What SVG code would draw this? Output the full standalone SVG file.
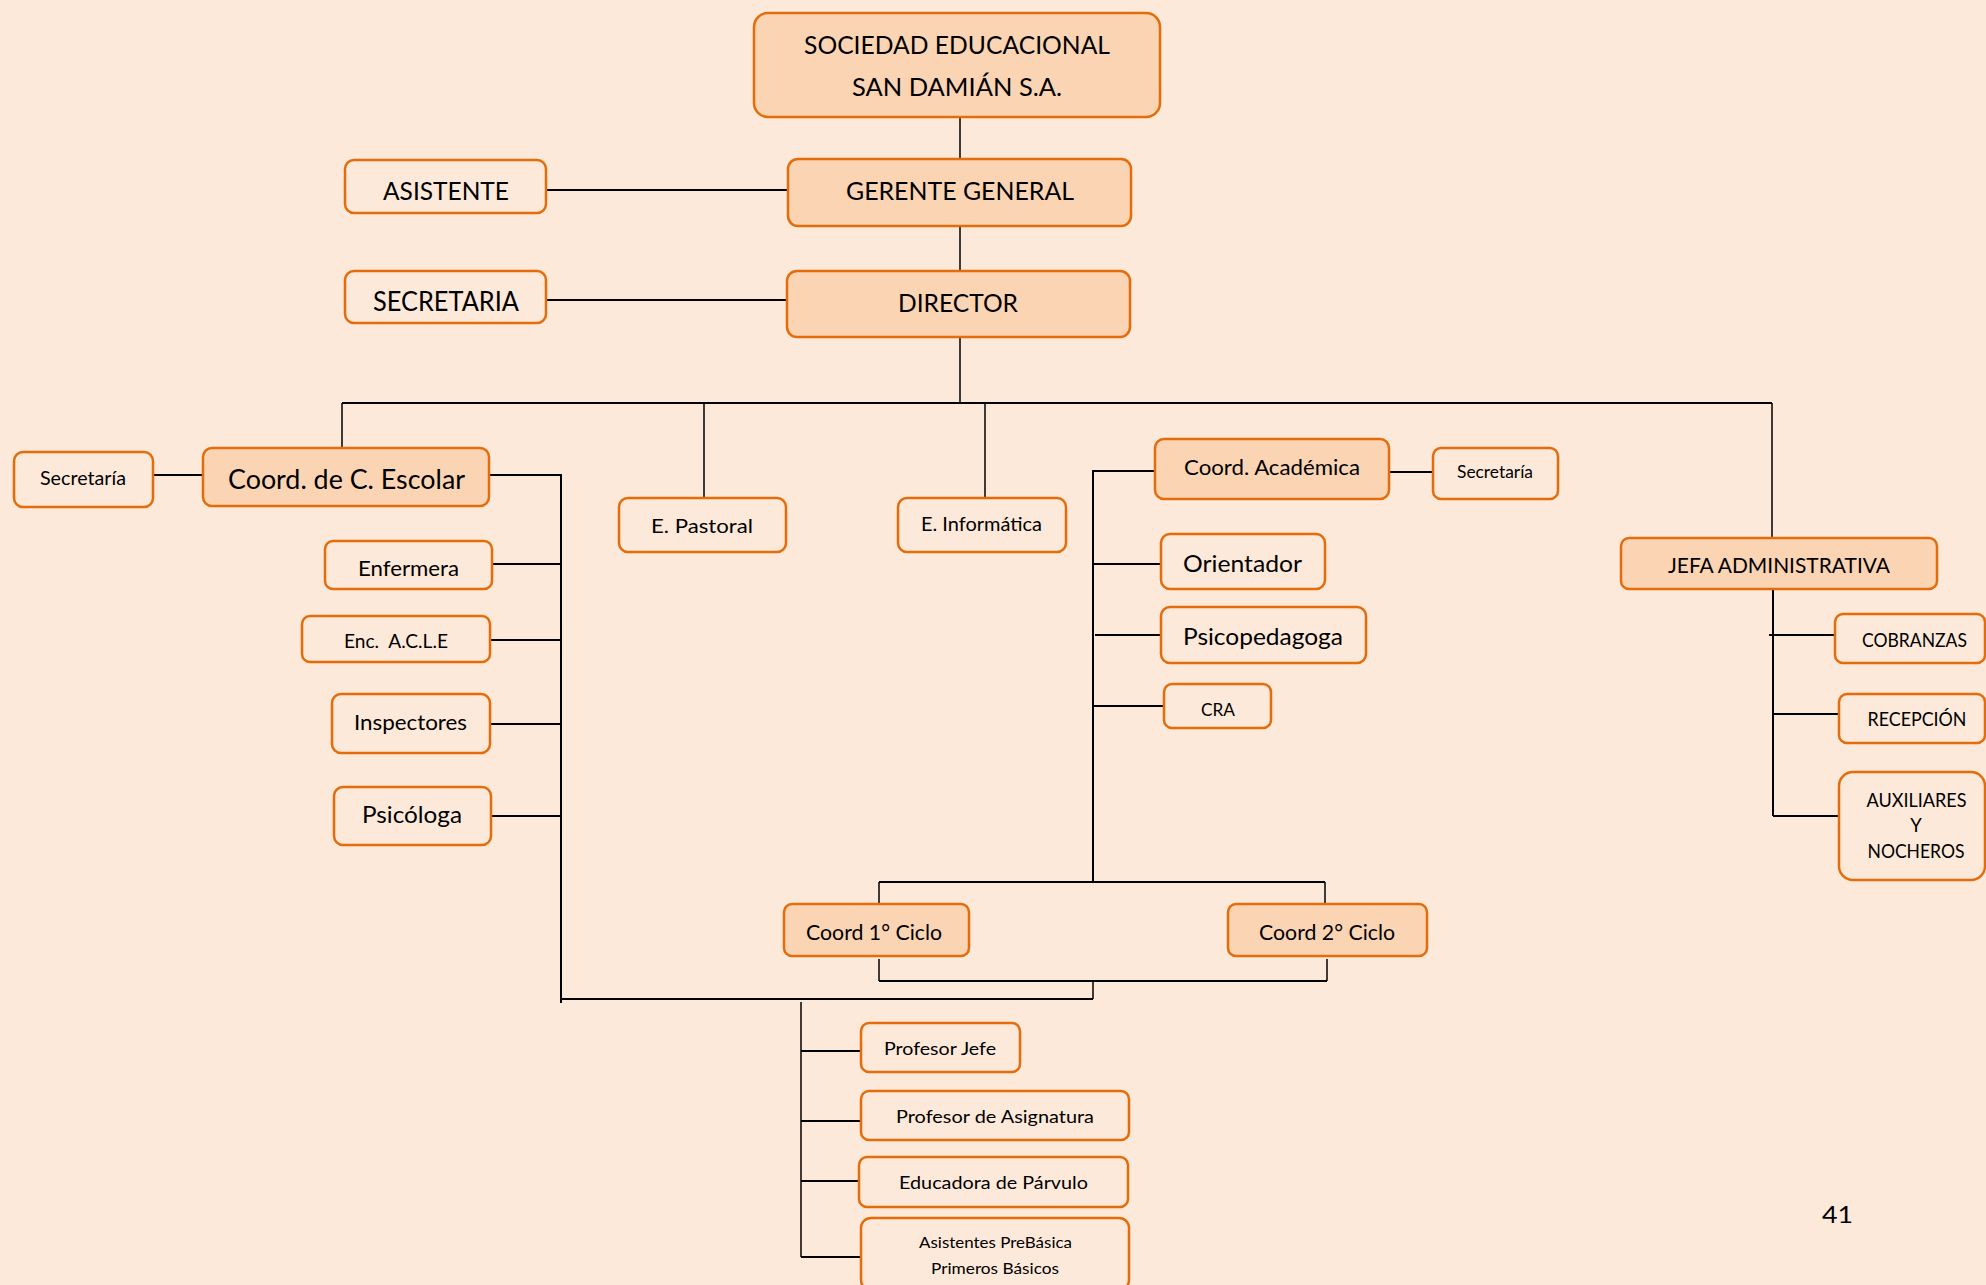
<svg xmlns="http://www.w3.org/2000/svg" width="1986" height="1285" viewBox="0 0 1986 1285">
<style>
.bx{fill:#FDE9D9;stroke:#E46C0A;stroke-width:2.5}
.hl{fill:#FBD4B4;stroke:#E46C0A;stroke-width:2.5}
.ln{fill:none;stroke:#000;stroke-width:2}
.lt{fill:none;stroke:#000;stroke-width:1.5}
text{font-family:Lato,"Open Sans",sans-serif;fill:#000;text-anchor:middle}
</style>
<rect x="0" y="0" width="1986" height="1285" fill="#FDE9D9"/>
<g id="connectors">
<path class="lt" d="M960 117V159M960 226V271M960 337V403"/>
<path class="ln" d="M546 190H788M546 300H787"/>
<path class="ln" d="M342 403H1772"/>
<path class="lt" d="M342 403V450M704 403V498M985 403V498M1772 403V538"/>
<path class="ln" d="M153 475H203"/>
<path class="ln" d="M489 475H561V1003"/>
<path class="ln" d="M492 564H561M490 640H561M490 724H561M491 816H561"/>
<path class="ln" d="M1155 471H1093V882"/>
<path class="ln" d="M1093 564H1161M1095 635H1161M1093 706H1164M1389 472H1433"/>
<path class="ln" d="M1773 589V816M1769 635H1835M1773 714H1839M1773 816H1839"/>
<path class="ln" d="M879 882H1325"/>
<path class="lt" d="M879 882V904M1325 882V918M879 959V981M1327 959V981M1093 981V999"/>
<path class="ln" d="M879 981H1327M561 999H1093"/>
<path class="lt" d="M801 1002V1257"/>
<path class="ln" d="M801 1051H861M801 1121H861M801 1181H859M801 1257H861"/>
</g>
<g id="sociedad"><rect class="hl" x="754" y="13" width="406" height="104" rx="14"/>
<text x="957" y="54" font-size="25" textLength="306" lengthAdjust="spacingAndGlyphs">SOCIEDAD EDUCACIONAL</text>
<text x="957" y="96" font-size="25" textLength="210" lengthAdjust="spacingAndGlyphs">SAN DAMIÁN S.A.</text></g>
<g id="asistente"><rect class="bx" x="345" y="160" width="201" height="53" rx="9"/>
<text x="446" y="200" font-size="25" textLength="126" lengthAdjust="spacingAndGlyphs">ASISTENTE</text></g>
<g id="gerente"><rect class="hl" x="788" y="159" width="343" height="67" rx="10"/>
<text x="960" y="200" font-size="25.5" textLength="228" lengthAdjust="spacingAndGlyphs">GERENTE GENERAL</text></g>
<g id="secretaria"><rect class="bx" x="345" y="271" width="201" height="52" rx="9"/>
<text x="446" y="311" font-size="26" textLength="146" lengthAdjust="spacingAndGlyphs">SECRETARIA</text></g>
<g id="director"><rect class="hl" x="787" y="271" width="343" height="66" rx="10"/>
<text x="958" y="312" font-size="25.5" textLength="120" lengthAdjust="spacingAndGlyphs">DIRECTOR</text></g>
<g id="secretaria-esc"><rect class="bx" x="14" y="452" width="139" height="55" rx="9"/>
<text x="83" y="485" font-size="20" textLength="86" lengthAdjust="spacingAndGlyphs">Secretaría</text></g>
<g id="coord-escolar"><rect class="hl" x="203" y="448" width="286" height="58" rx="9"/>
<text x="346.5" y="489" font-size="26" textLength="237" lengthAdjust="spacingAndGlyphs">Coord. de C. Escolar</text></g>
<g id="pastoral"><rect class="bx" x="619" y="498" width="167" height="54" rx="9"/>
<text x="702" y="533" font-size="20" textLength="102" lengthAdjust="spacingAndGlyphs">E. Pastoral</text></g>
<g id="informatica"><rect class="bx" x="898" y="498" width="168" height="54" rx="9"/>
<text x="981.5" y="531" font-size="19" textLength="121" lengthAdjust="spacingAndGlyphs">E. Informática</text></g>
<g id="enfermera"><rect class="bx" x="325" y="541" width="167" height="48" rx="8"/>
<text x="408.5" y="576" font-size="21" textLength="101" lengthAdjust="spacingAndGlyphs">Enfermera</text></g>
<g id="acle"><rect class="bx" x="302" y="616" width="188" height="46" rx="8"/>
<text x="396" y="648" font-size="20" textLength="104" lengthAdjust="spacingAndGlyphs" xml:space="preserve">Enc.  A.C.L.E</text></g>
<g id="inspectores"><rect class="bx" x="332" y="694" width="158" height="59" rx="9"/>
<text x="410.5" y="730" font-size="21" textLength="113" lengthAdjust="spacingAndGlyphs">Inspectores</text></g>
<g id="psicologa"><rect class="bx" x="334" y="787" width="157" height="58" rx="9"/>
<text x="412" y="823" font-size="23" textLength="100" lengthAdjust="spacingAndGlyphs">Psicóloga</text></g>
<g id="coord-academica"><rect class="hl" x="1155" y="439" width="234" height="60" rx="9"/>
<text x="1272" y="475" font-size="22" textLength="176" lengthAdjust="spacingAndGlyphs">Coord. Académica</text></g>
<g id="secretaria-acad"><rect class="bx" x="1433" y="448" width="125" height="51" rx="8"/>
<text x="1495" y="478" font-size="16.5" textLength="76" lengthAdjust="spacingAndGlyphs">Secretaría</text></g>
<g id="orientador"><rect class="bx" x="1161" y="534" width="164" height="55" rx="9"/>
<text x="1242.5" y="572" font-size="23.5" textLength="119" lengthAdjust="spacingAndGlyphs">Orientador</text></g>
<g id="psicopedagoga"><rect class="bx" x="1161" y="607" width="205" height="56" rx="9"/>
<text x="1263" y="645" font-size="23" textLength="160" lengthAdjust="spacingAndGlyphs">Psicopedagoga</text></g>
<g id="cra"><rect class="bx" x="1164" y="684" width="107" height="44" rx="8"/>
<text x="1218" y="716" font-size="17" textLength="34" lengthAdjust="spacingAndGlyphs">CRA</text></g>
<g id="jefa"><rect class="hl" x="1621" y="538" width="316" height="51" rx="8"/>
<text x="1779" y="573" font-size="21" textLength="222" lengthAdjust="spacingAndGlyphs">JEFA ADMINISTRATIVA</text></g>
<g id="cobranzas"><rect class="bx" x="1835" y="614" width="150" height="49" rx="8"/>
<text x="1914.5" y="647" font-size="19.5" textLength="105" lengthAdjust="spacingAndGlyphs">COBRANZAS</text></g>
<g id="recepcion"><rect class="bx" x="1839" y="694" width="146" height="49" rx="8"/>
<text x="1917" y="726" font-size="19" textLength="99" lengthAdjust="spacingAndGlyphs">RECEPCIÓN</text></g>
<g id="auxiliares"><rect class="bx" x="1839" y="772" width="146" height="108" rx="14"/>
<text x="1916.5" y="807" font-size="18.5" textLength="100" lengthAdjust="spacingAndGlyphs">AUXILIARES</text>
<text x="1916" y="832" font-size="18.5">Y</text>
<text x="1916" y="858" font-size="18.5" textLength="97" lengthAdjust="spacingAndGlyphs">NOCHEROS</text></g>
<g id="coord1"><rect class="hl" x="784" y="904" width="185" height="52" rx="8"/>
<text x="874" y="940" font-size="21" textLength="136" lengthAdjust="spacingAndGlyphs">Coord 1° Ciclo</text></g>
<g id="coord2"><rect class="hl" x="1228" y="904" width="199" height="52" rx="8"/>
<text x="1327" y="940" font-size="21" textLength="136" lengthAdjust="spacingAndGlyphs">Coord 2° Ciclo</text></g>
<g id="profesor-jefe"><rect class="bx" x="861" y="1023" width="159" height="49" rx="8"/>
<text x="940" y="1055" font-size="18" textLength="112" lengthAdjust="spacingAndGlyphs">Profesor Jefe</text></g>
<g id="profesor-asig"><rect class="bx" x="861" y="1091" width="268" height="49" rx="8"/>
<text x="995" y="1123" font-size="17.5" textLength="198" lengthAdjust="spacingAndGlyphs">Profesor de Asignatura</text></g>
<g id="educadora"><rect class="bx" x="859" y="1157" width="269" height="50" rx="8"/>
<text x="993.5" y="1189" font-size="17.5" textLength="189" lengthAdjust="spacingAndGlyphs">Educadora de Párvulo</text></g>
<g id="asistentes"><rect class="bx" x="861" y="1218" width="268" height="72" rx="10"/>
<text x="995.5" y="1248" font-size="16" textLength="153" lengthAdjust="spacingAndGlyphs">Asistentes PreBásica</text>
<text x="995" y="1274" font-size="16" textLength="128" lengthAdjust="spacingAndGlyphs">Primeros Básicos</text></g>
<text x="1837.5" y="1223" font-size="24" textLength="31" lengthAdjust="spacingAndGlyphs">41</text>
</svg>
